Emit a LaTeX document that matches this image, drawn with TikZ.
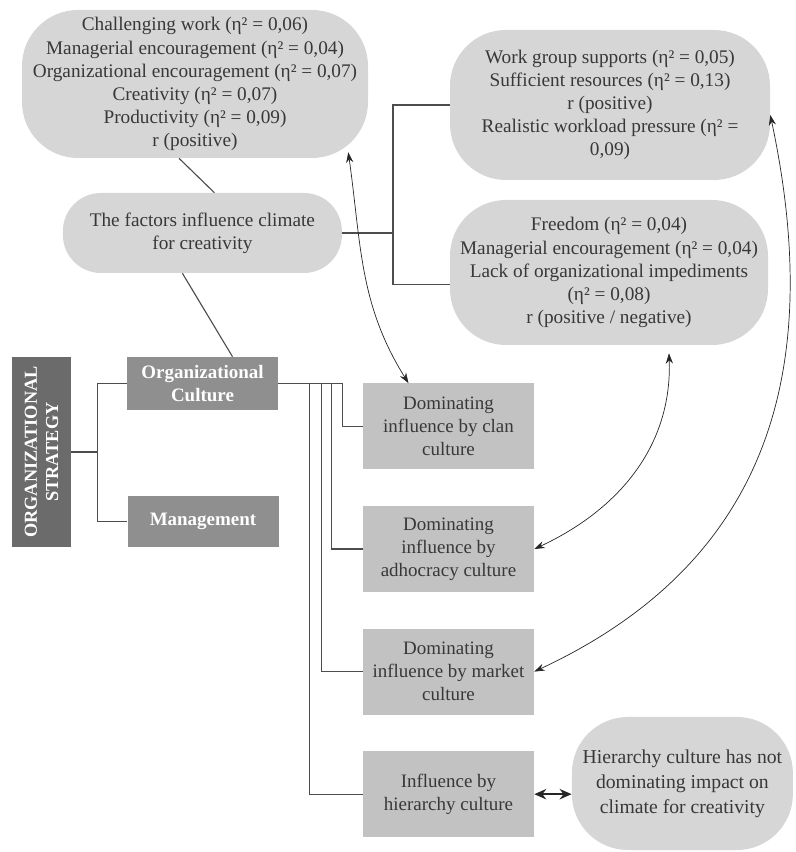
\documentclass[tikz,border=0pt]{standalone}
\usepackage{fontspec}
\setmainfont{Liberation Serif}
\usetikzlibrary{arrows.meta, positioning, calc}

\definecolor{bubblegray}{HTML}{D6D6D6}
\definecolor{boxgray}{HTML}{C2C2C2}
\definecolor{midgray}{HTML}{8F8F8F}
\definecolor{stratgray}{HTML}{6B6B6B}
\definecolor{textgray}{HTML}{383838}
\definecolor{linegray}{HTML}{4D4D4D}

\begin{document}
\begin{tikzpicture}[
    bubble/.style={fill=bubblegray, rounded corners=1.4cm, align=center, text=textgray, inner sep=0pt, font=\fontsize{13.7}{16.4}\selectfont},
    cbox/.style={fill=boxgray, minimum width=4.275cm, minimum height=2.15cm, align=center, text=textgray, inner sep=0pt, font=\fontsize{13.5}{16.3}\selectfont},
    dbox/.style={fill=midgray, minimum width=3.775cm, align=center, text=white, inner sep=0pt, font=\bfseries\fontsize{13.5}{16.3}\selectfont},
    conn/.style={draw=linegray, line width=0.8pt},
    link/.style={draw=black!85, line width=0.5pt, {Stealth[length=2.6mm,width=1.8mm]}-{Stealth[length=2.6mm,width=1.8mm]}},
    hlink/.style={draw=black!85, line width=1.3pt, {Stealth[length=3mm,width=2.6mm]}-{Stealth[length=3mm,width=2.6mm]}}
]
    \useasboundingbox (0,0) rectangle (19.875,21.3);

    % climate factors
    \node[bubble, minimum width=8.65cm, minimum height=3.7cm] (topf) at (4.875,19.2) {Challenging work (η² = 0,06)\\ Managerial encouragement (η² = 0,04)\\ Organizational encouragement (η² = 0,07)\\ Creativity (η² = 0,07)\\ Productivity (η² = 0,09)\\ r (positive)};
    \node[bubble, rounded corners=0.95cm, minimum width=6.975cm, minimum height=2cm] (clim) at (5.06,15.475) {The factors influence climate\\ for creativity};
    \node[bubble, minimum width=8cm, minimum height=3.75cm] (wgs) at (15.25,18.675) {Work group supports (η² = 0,05)\\ Sufficient resources (η² = 0,13)\\ r (positive)\\ Realistic workload pressure (η² =\\ 0,09)};
    \node[bubble, minimum width=7.95cm, minimum height=3.625cm] (free) at (15.225,14.4875) {Freedom (η² = 0,04)\\ Managerial encouragement (η² = 0,04)\\ Lack of organizational impediments\\ (η² = 0,08)\\ r (positive / negative)};

    % strategy
    \node[fill=stratgray, minimum width=1.475cm, minimum height=4.75cm, inner sep=0pt] (strat) at (1.0375,10) {};
    \node[rotate=90, align=center, text=white, font=\bfseries\fontsize{13}{15}\selectfont] (stratlbl) at (strat) {ORGANIZATIONAL\\ STRATEGY};
    \node[dbox, minimum height=1.325cm] (orgc) at (5.0625,11.7125) {Organizational\\ Culture};
    \node[dbox, minimum height=1.275cm] (mgmt) at (5.075,8.2625) {Management};

    % culture types
    \node[cbox] (clan) at (11.2125,10.6375) {Dominating\\ influence by clan\\ culture};
    \node[cbox, below=0.9cm of clan] (adho) {Dominating\\ influence by\\ adhocracy culture};
    \node[cbox, below=0.9cm of adho] (mark) {Dominating\\ influence by market\\ culture};
    \node[cbox, below=0.9cm of mark] (hier) {Influence by\\ hierarchy culture};
    \node[bubble, minimum width=5.525cm, minimum height=3.325cm, font=\fontsize{14}{17.8}\selectfont] (hbub) at (17.06,1.7125) {Hierarchy culture has not\\ dominating impact on\\ climate for creativity};

    \draw[conn] ([xshift=-0.4cm]topf.south) -- ([xshift=0.3cm]clim.north);
    \draw[conn] ([xshift=-0.5cm]clim.south) -- ([xshift=0.75cm]orgc.north);
    \coordinate (cf) at (9.825,15.475);
    \draw[conn] (clim.east) -- (cf);
    \draw[conn] (wgs.west) -| (cf) |- ([yshift=-0.3cm]free.west);

    \coordinate (sf) at ([xshift=0.65cm]strat.east);
    \draw[conn] (strat.east) -- (sf);
    \draw[conn] (orgc.west) -| (sf) |- (mgmt.west);

    \foreach \b/\d in {clan/1.6, adho/1.325, mark/1.075, hier/0.775}
        \draw[conn] (orgc.east) -- ++(\d,0) |- (\b.west);

    \draw[link] ([xshift=-0.5cm,yshift=0.15cm]topf.south east) to[out=-82,in=122] ([xshift=-1cm]clan.north);
    \draw[link] (adho.east) to[out=25,in=-88] ([xshift=1.5cm,yshift=-0.2cm]free.south);
    \draw[link] (mark.east) to[out=25,in=-78,looseness=1.1] ([yshift=-0.25cm]wgs.east);
    \draw[hlink] (hier.east) -- (hier.east -| hbub.west);
\end{tikzpicture}
\end{document}
